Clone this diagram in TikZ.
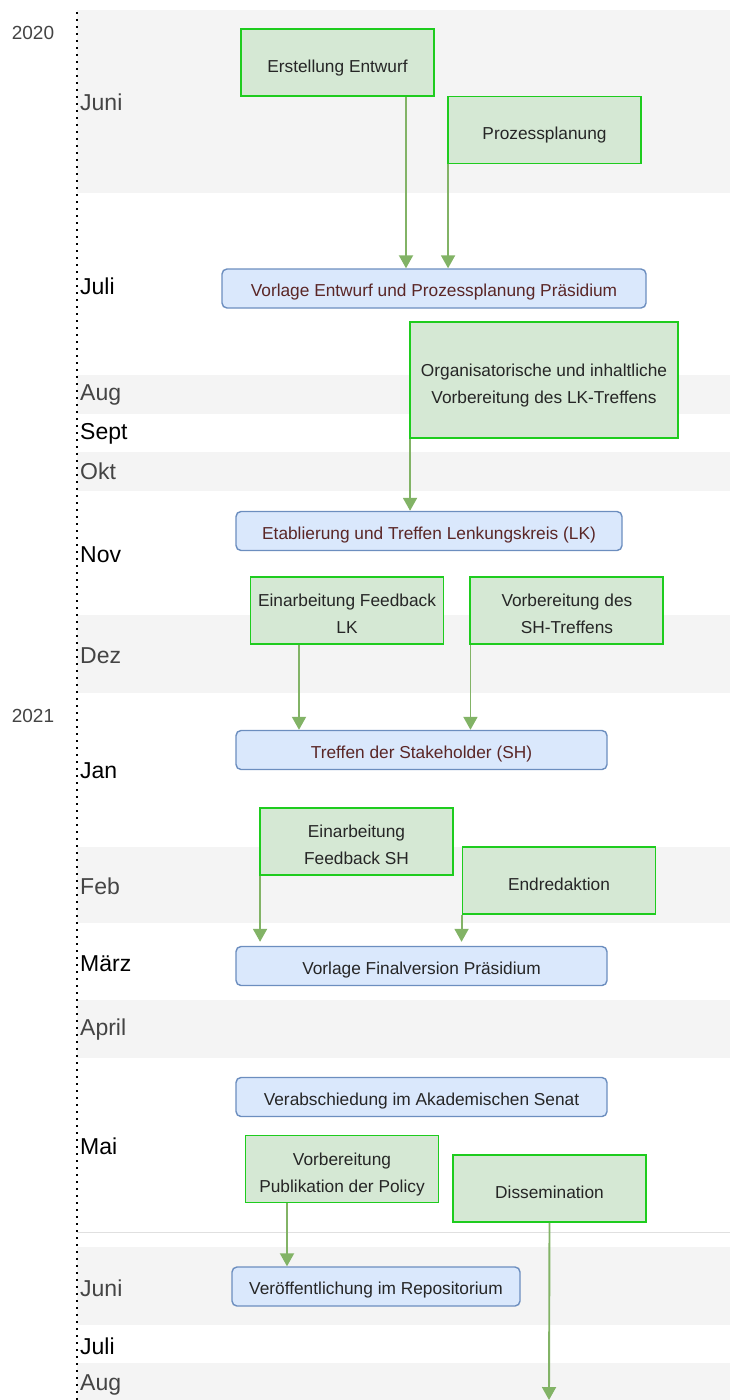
\documentclass[tikz,border=0pt]{standalone}
\usepackage{fontspec}
\setmainfont{Liberation Sans}
\usepackage{xcolor}
\usepackage{tikz}
\usetikzlibrary{arrows.meta,positioning}

\definecolor{bandgrey}{HTML}{F4F4F4}
\definecolor{taskfill}{HTML}{D5E8D4}
\definecolor{taskline}{HTML}{1ECC1E}
\definecolor{eventfill}{HTML}{DAE8FC}
\definecolor{eventline}{HTML}{6C8EBF}
\definecolor{arrowgreen}{HTML}{82B366}
\definecolor{maroon}{HTML}{5A2626}
\definecolor{monthgrey}{HTML}{444444}

\begin{document}
\begin{tikzpicture}[
    x=1pt, y=-1pt,
    band/.style={fill=bandgrey, draw=none},
    month/.style={anchor=west, inner sep=0pt, font=\fontsize{23}{27}\selectfont},
    year/.style={inner sep=0pt, text=monthgrey, font=\fontsize{19}{22}\selectfont},
    task/.style={draw=taskline, fill=taskfill, line width=1.9pt, minimum width=193pt, minimum height=67pt, align=center, inner sep=0pt, text height=19pt, text depth=0pt, text=black!85, font=\fontsize{17.3}{27}\selectfont},
    twoline/.style={text height=46pt, text depth=0pt},
    event/.style={draw=eventline, fill=eventfill, line width=1.4pt, rounded corners=5pt, minimum height=39pt, align=center, inner sep=0pt, text height=16pt, text depth=0pt, font=\fontsize{17.3}{20}\selectfont},
    arrow/.style={-{Triangle[width=14pt,length=13pt]}, draw=arrowgreen, line width=1.9pt}
]
    % Rahmen
    \useasboundingbox (0,0) rectangle (730,1400);

    % Monatsbaender
    \fill[band] (77,10) rectangle (730,193);
    \fill[band] (77,375) rectangle (730,414);
    \fill[band] (77,452) rectangle (730,491);
    \fill[band] (77,615) rectangle (730,693);
    \fill[band] (77,847) rectangle (730,923);
    \fill[band] (77,1000) rectangle (730,1058);
    \fill[band] (77,1247) rectangle (730,1325);
    \fill[band] (77,1363) rectangle (730,1400);
    \draw[black!12, line width=0.8pt] (77,1232) -- (730,1232);

    % Zeitachse
    \draw[line width=1.6pt, dash pattern=on 1.6pt off 5.4pt] (77,12) -- (77,1400);

    % Jahre
    \node[year] (y2020) at (33,33) {2020};
    \node[year] (y2021) at (33,716) {2021};

    % Monate
    \node[month, text=monthgrey] (m1) at (80,102) {Juni};
    \node[month] (m2) at (80,286) {Juli};
    \node[month, text=monthgrey] (m3) at (80,395) {Aug};
    \node[month] (m4) at (80,434) {Sept};
    \node[month, text=monthgrey] (m5) at (80,471) {Okt};
    \node[month] (m6) at (80,555) {Nov};
    \node[month, text=monthgrey] (m7) at (80,656) {Dez};
    \node[month] (m8) at (80,771) {Jan};
    \node[month, text=monthgrey] (m9) at (80,886) {Feb};
    \node[month] (m10) at (80,964) {März};
    \node[month, text=monthgrey] (m11) at (80,1030) {April};
    \node[month] (m12) at (80,1146) {Mai};
    \node[month, text=monthgrey] (m13) at (80,1288) {Juni};
    \node[month] (m14) at (80,1346) {Juli};
    \node[month, text=monthgrey] (m15) at (80,1385) {Aug};

    % 2020
    \node[task] (entwurf) at (337.5,62.5) {Erstellung Entwurf};
    \node[task] (planung) at (544.5,130) {Prozessplanung};
    \node[event, minimum width=424pt, text=maroon] (vorlage) at (434,288.5) {Vorlage Entwurf und Prozessplanung Präsidium};
    \node[task, twoline, minimum width=268pt, minimum height=116pt] (orga) at (544,380) {Organisatorische und inhaltliche\\Vorbereitung des LK-Treffens};
    \node[event, minimum width=386pt, text=maroon] (lk) at (429,531) {Etablierung und Treffen Lenkungskreis (LK)};
    \node[task, twoline] (fblk) at (347,610.5) {Einarbeitung Feedback\\LK};
    \node[task, twoline, right=25pt of fblk] (vorsh) {Vorbereitung des\\SH-Treffens};

    % 2021
    \node[event, minimum width=371pt, text=maroon] (sh) at (421.5,750) {Treffen der Stakeholder (SH)};
    \node[task, twoline] (fbsh) at (356.5,841.5) {Einarbeitung\\Feedback SH};
    \node[task] (endred) at (559,880.5) {Endredaktion};
    \node[event, minimum width=371pt, text=black!85] (final) at (421.5,966) {Vorlage Finalversion Präsidium};
    \node[event, minimum width=371pt, text=black!85] (senat) at (421.5,1097) {Verabschiedung im Akademischen Senat};
    \node[task, twoline] (publ) at (342,1169) {Vorbereitung\\Publikation der Policy};
    \node[task] (diss) at (549.5,1188.5) {Dissemination};
    \node[event, minimum width=288pt, text=black!85] (repo) at (376,1286.5) {Veröffentlichung im Repositorium};
    \coordinate (dissend) at (549,1400);

    % Pfeile
    \draw[arrow] ([xshift=68.5pt]entwurf.south) -- ([xshift=68.5pt]entwurf.south |- vorlage.north);
    \draw[arrow] ([xshift=1pt]planung.south west) -- ([xshift=1pt]planung.south west |- vorlage.north);
    \draw[arrow] ([xshift=1pt]orga.south west) -- ([xshift=1pt]orga.south west |- lk.north);
    \draw[arrow] ([xshift=-48pt]fblk.south) -- ([xshift=-48pt]fblk.south |- sh.north);
    \draw[arrow] ([xshift=1pt]vorsh.south west) -- ([xshift=1pt]vorsh.south west |- sh.north);
    \draw[arrow] ([xshift=1pt]fbsh.south west) -- ([xshift=1pt,yshift=4pt]fbsh.south west |- final.north);
    \draw[arrow] (endred.south west) -- ([yshift=4pt]endred.south west |- final.north);
    \draw[arrow] ([xshift=-55pt]publ.south) -- ([xshift=-55pt]publ.south |- repo.north);
    \draw[arrow] (diss.south) -- (dissend);

\end{tikzpicture}
\end{document}
